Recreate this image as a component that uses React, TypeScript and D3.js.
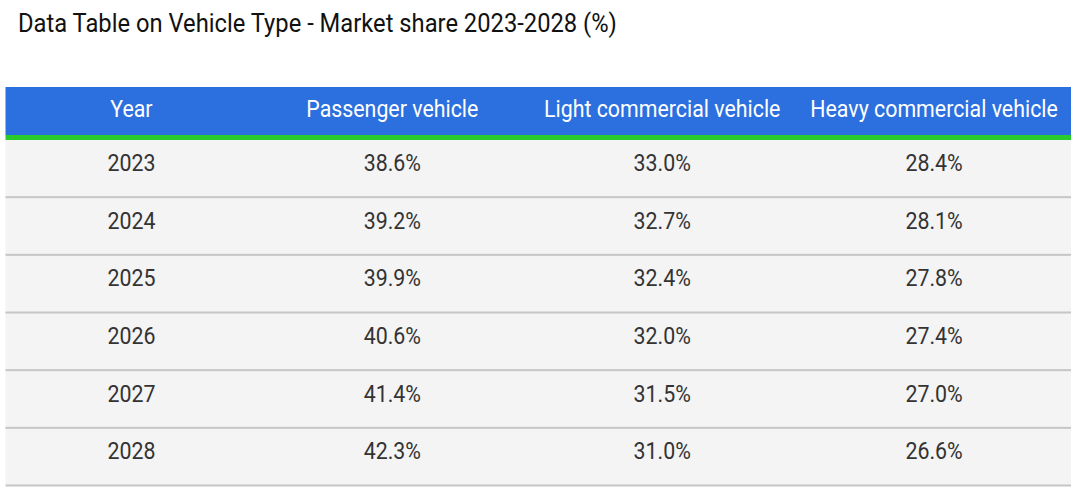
import React from "react";
import * as d3 from "d3";

const title = "Data Table on Vehicle Type - Market share 2023-2028 (%)";
const columns = ["Year", "Passenger vehicle", "Light commercial vehicle", "Heavy commercial vehicle"];
const years = ["2023", "2024", "2025", "2026", "2027", "2028"];
const passenger = [38.6, 39.2, 39.9, 40.6, 41.4, 42.3];
const lightCommercial = [33.0, 32.7, 32.4, 32.0, 31.5, 31.0];
const heavyCommercial = [28.4, 28.1, 27.8, 27.4, 27.0, 26.6];

const W = 1080;
const H = 493;
const tableLeft = 5.5;
const tableRight = 1071;
const headerTop = 87;
const headerBottom = 135;
const greenH = 5;
const bodyTop = headerBottom + greenH;
const bodyBottom = 486;
const colWeights = [252, 270, 270, 274];
const FONT = "Roboto, 'Liberation Sans', sans-serif";
const SX = 0.89;

export default function App() {
  const fmt = d3.format(".1f");
  const rows = years.map((y, i) => [
    y,
    fmt(passenger[i]) + "%",
    fmt(lightCommercial[i]) + "%",
    fmt(heavyCommercial[i]) + "%",
  ]);

  const total = d3.sum(colWeights);
  const cum = d3.cumsum(colWeights);
  const x = d3.scaleLinear().domain([0, total]).range([tableLeft, tableRight]);
  const colCenter = (j: number) => x((j === 0 ? 0 : cum[j - 1]) + colWeights[j] / 2);

  const yScale = d3
    .scaleBand<string>()
    .domain(years)
    .range([bodyTop, bodyBottom])
    .padding(0);
  const bh = yScale.bandwidth();

  return (
    <svg
      width={W}
      height={H}
      style={{ position: "absolute", left: 0, top: 0, background: "#fff" }}
    >
      <text
        transform={`translate(18,31.5) scale(0.95,1)`}
        fontFamily={FONT}
        fontSize={25}
        fill="#111"
      >
        {title}
      </text>

      <rect
        x={tableLeft}
        y={headerTop}
        width={tableRight - tableLeft}
        height={headerBottom - headerTop}
        fill="#2c6fdf"
      />
      <rect
        x={tableLeft}
        y={headerBottom}
        width={tableRight - tableLeft}
        height={greenH}
        fill="#29cc2b"
      />
      {columns.map((c, j) => (
        <text
          key={c}
          transform={`translate(${colCenter(j)},${headerTop + 30}) scale(${SX},1)`}
          textAnchor="middle"
          fontFamily={FONT}
          fontSize={24}
          fill="#ffffff"
        >
          {c}
        </text>
      ))}

      <rect
        x={tableLeft}
        y={bodyTop}
        width={tableRight - tableLeft}
        height={bodyBottom - bodyTop}
        fill="#f4f4f4"
      />
      {rows.map((r, i) => {
        const top = yScale(years[i]) as number;
        return (
          <g key={years[i]}>
            <rect
              x={tableLeft}
              y={top + bh - 1.5}
              width={tableRight - tableLeft}
              height={2}
              fill="#c6c6c6"
            />
            {r.map((cell, j) => (
              <text
                key={j}
                transform={`translate(${colCenter(j)},${top + 31}) scale(${SX},1)`}
                textAnchor="middle"
                fontFamily={FONT}
                fontSize={24}
                fill="#333"
              >
                {cell}
              </text>
            ))}
          </g>
        );
      })}
    </svg>
  );
}
